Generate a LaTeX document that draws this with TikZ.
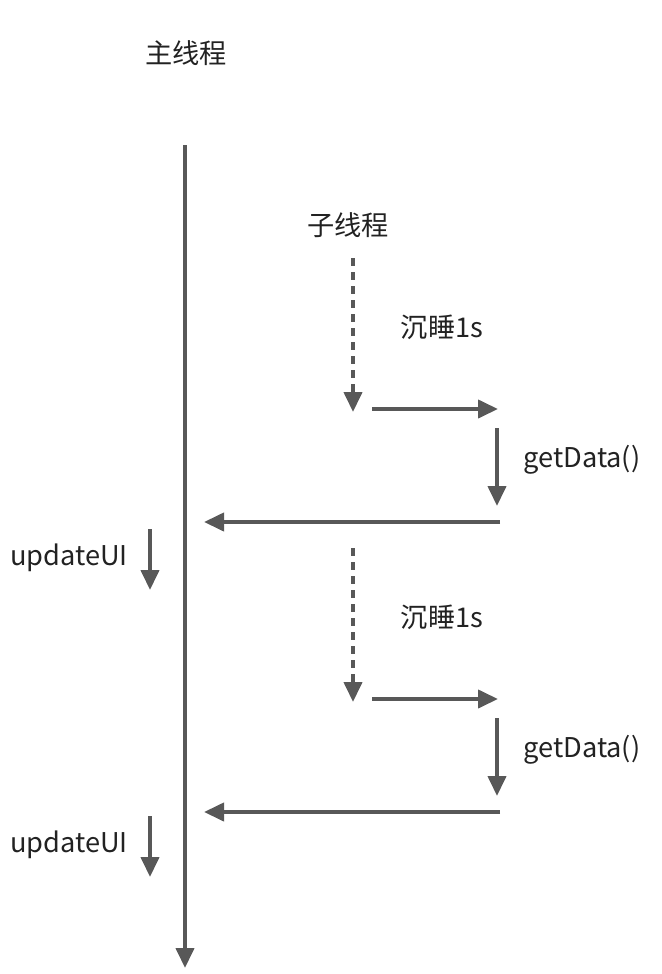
\documentclass[tikz,border=0pt]{standalone}
\usepackage{fontspec}
\setmainfont{Noto Sans CJK SC}
\usepackage{xcolor}
\usepackage{tikz}
\usetikzlibrary{arrows.meta}
\definecolor{linegray}{HTML}{585858}
\definecolor{textgray}{HTML}{222222}

\begin{document}
\begin{tikzpicture}[x=0.5pt,y=-0.5pt,
  flow/.style={draw=linegray,line width=2pt,-{Triangle[length=10pt,width=9pt]}},
  sleepflow/.style={flow,dash pattern=on 4pt off 3pt},
  label/.style={text=textgray,font=\fontsize{13.6}{16}\selectfont,inner sep=0pt}]
\useasboundingbox (0,0) rectangle (662,974);
\node[label] (main) at (186,53) {主线程};
\coordinate (mtop) at (185,145);
\coordinate (mbot) at (185,968);
\draw[flow] (mtop) -- (mbot);
\node[label] (sub) at (348,225) {子线程};
\foreach \i/\d/\u in {1/0/0,2/290/287} {
  \coordinate (dtop\i) at (353,258+\d);
  \coordinate (dbot\i) at (353,412+\d);
  \draw[sleepflow] (dtop\i) -- (dbot\i);
  \node[label] (sleep\i) at (442,327+\d) {沉睡1s};
  \coordinate (wake\i) at (372,409+\d);
  \coordinate (fetch\i) at (498,409+\d);
  \draw[flow] (wake\i) -- (fetch\i);
  \coordinate (gtop\i) at (497,428+\d);
  \coordinate (gbot\i) at (497,506+\d);
  \draw[flow] (gtop\i) -- (gbot\i);
  \node[label,anchor=west] (get\i) at (523,460+\d) {getData()};
  \coordinate (back\i) at (500,522+\d);
  \coordinate (post\i) at (204,522+\d);
  \draw[flow] (back\i) -- (post\i);
  \node[label] (ui\i) at (69,558+\u) {updateUI};
  \coordinate (utop\i) at (150,529+\u);
  \coordinate (ubot\i) at (150,590+\u);
  \draw[flow] (utop\i) -- (ubot\i);
}
\end{tikzpicture}
\end{document}
